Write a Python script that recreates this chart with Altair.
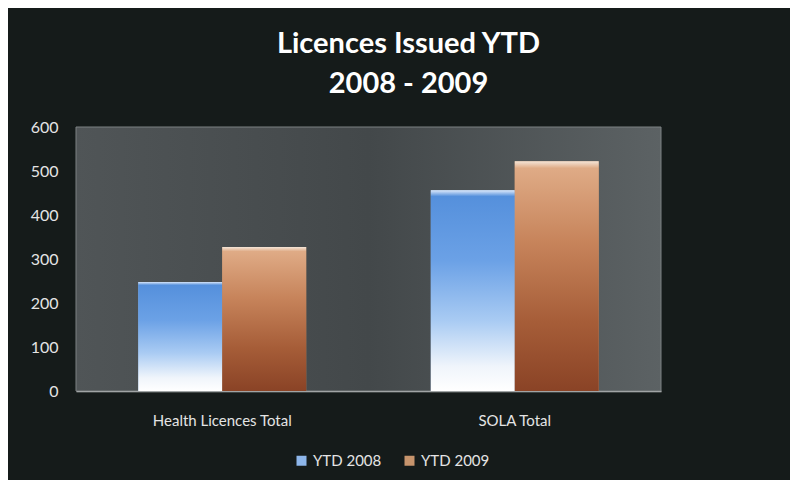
import altair as alt
import pandas as pd

categories = ["Health Licences Total", "SOLA Total"]
series = ["YTD 2008", "YTD 2009"]
ytd_2008 = [248, 456]
ytd_2009 = [327, 522]
y_ticks = [0, 100, 200, 300, 400, 500, 600]

rows = []
for c, a, b in zip(categories, ytd_2008, ytd_2009):
    rows.append({"category": c, "series": series[0], "value": a})
    rows.append({"category": c, "series": series[1], "value": b})
df = pd.DataFrame(rows)

FONT = "Lato"
LABEL = "#e4e4e4"


def grad(stops, horizontal=False):
    return alt.LinearGradient(
        gradient="linear", x1=0, y1=0, x2=1 if horizontal else 0, y2=0 if horizontal else 1,
        stops=[alt.GradientStop(offset=o, color=c) for o, c in stops],
    )


blue_grad = grad([(0.0, "#dbe8fa"), (0.03, "#5590dc"), (0.35, "#6ba1e6"),
                  (0.65, "#a9cbf3"), (0.88, "#f0f5fb"), (1.0, "#ffffff")])
brown_grad = grad([(0.0, "#f4e4d6"), (0.03, "#dfab86"), (0.35, "#c7845b"),
                   (0.7, "#a65d38"), (1.0, "#8a4326")])
view_grad = grad([(0.0, "#505557"), (0.5, "#43484a"), (1.0, "#5c6264")], horizontal=True)

x_enc = alt.X(
    "category:N", sort=categories, title=None,
    scale=alt.Scale(paddingInner=0.426, paddingOuter=0.213),
    axis=alt.Axis(labelAngle=0, ticks=False, domainColor="#c4c6c6", domainWidth=1.5,
                  labelFont=FONT, labelFontSize=15, labelColor=LABEL, labelPadding=22),
)
y_enc = alt.Y(
    "value:Q", title=None, scale=alt.Scale(domain=[0, 600]),
    axis=alt.Axis(values=y_ticks, grid=False, ticks=False, domain=False,
                  labelFont=FONT, labelFontSize=16, labelColor=LABEL, labelPadding=18),
)
xo = alt.XOffset("series:N", sort=series, scale=alt.Scale(paddingInner=0, paddingOuter=0))

bg = alt.Chart(pd.DataFrame({"k": [0]})).mark_rect(
    fill=view_grad, stroke="#7d8283", strokeWidth=1
).encode(x=alt.value(0), x2=alt.value("width"), y=alt.value(0), y2=alt.value("height"))

base = alt.Chart(df).encode(x=x_enc, y=y_enc, xOffset=xo)

legend_layer = base.mark_bar().encode(
    color=alt.Color(
        "series:N", sort=series,
        scale=alt.Scale(domain=series, range=["#8db6ea", "#c6946c"]),
        legend=alt.Legend(
            title=None, orient="none", direction="horizontal", legendX=218, legendY=326,
            symbolType="square", symbolSize=100, symbolStrokeWidth=0,
            labelFont=FONT, labelFontSize=15, labelColor=LABEL, columnPadding=20,
        ),
    )
)
g08 = base.transform_filter(alt.datum.series == series[0]).mark_bar(fill=blue_grad)
g09 = base.transform_filter(alt.datum.series == series[1]).mark_bar(fill=brown_grad)

chart = alt.layer(bg, legend_layer, g08, g09).properties(
    width=585, height=264,
    autosize=alt.AutoSizeParams(type="none"),
    padding={"left": 68, "top": 119, "right": 129, "bottom": 89},
    background="#151b1a",
    title=alt.TitleParams(
        ["Licences Issued YTD", "2008 - 2009"], font=FONT, fontSize=29,
        fontWeight="bold", color="#ffffff", lineHeight=40, anchor="middle",
        dx=40, offset=20,
    ),
).configure_view(stroke=None)

chart.save("out.html", embed_options={"renderer": "svg", "actions": False})
